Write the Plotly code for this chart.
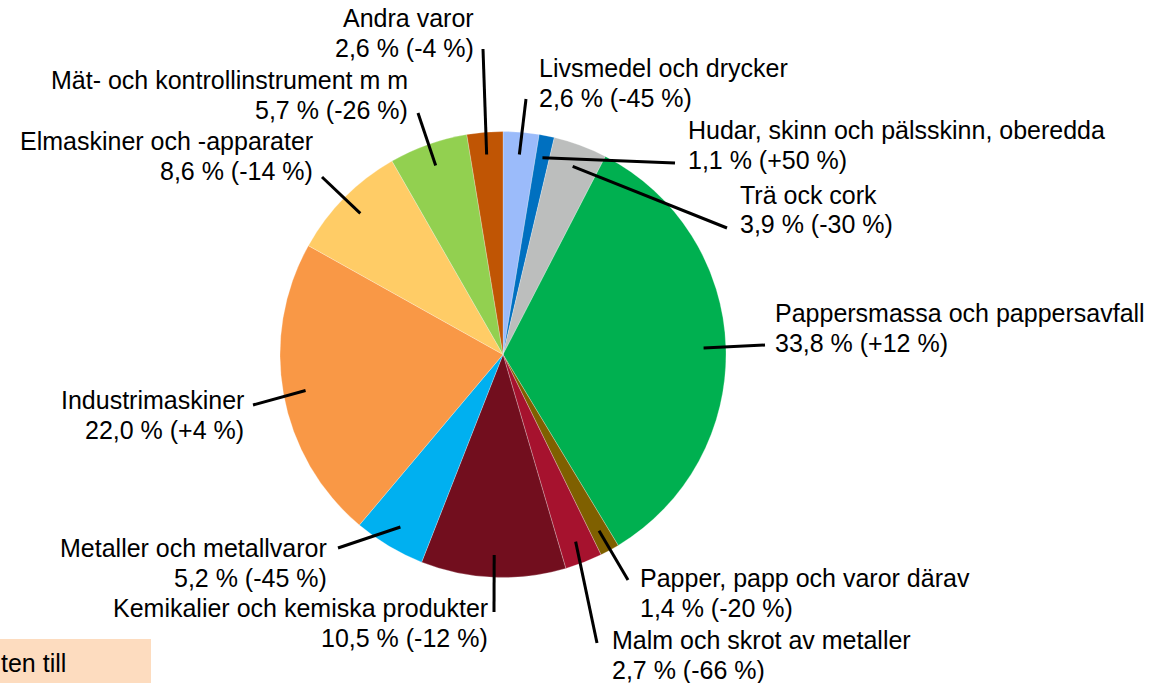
import math
import plotly.graph_objects as go

# ---- data ----
categories = [
    "Livsmedel och drycker",
    "Hudar, skinn och pälsskinn, oberedda",
    "Trä ock cork",
    "Pappersmassa och pappersavfall",
    "Papper, papp och varor därav",
    "Malm och skrot av metaller",
    "Kemikalier och kemiska produkter",
    "Metaller och metallvaror",
    "Industrimaskiner",
    "Elmaskiner och -apparater",
    "Mät- och kontrollinstrument m m",
    "Andra varor",
]
shares = [2.6, 1.1, 3.9, 33.8, 1.4, 2.7, 10.5, 5.2, 22.0, 8.6, 5.7, 2.6]
changes = ["-45", "+50", "-30", "+12", "-20", "-66", "-12", "-45", "+4", "-14", "-26", "-4"]
colors = ["#9BBBFA", "#0070C0", "#BCBEBD", "#00B050", "#7F6000", "#A6122E",
          "#720E1E", "#00B0F0", "#F99846", "#FFCC66", "#92D050", "#C05504"]

# ---- layout (pixels) ----
W, H = 1157, 683
CX, CY, R = 503, 354.5, 223
FONT = dict(family="Liberation Sans, Arial", size=25, color="black")
# label anchor: (x, y of first line center, xanchor), leader-line outer end
label_pos = [
    (537, 68, "left", (526, 99)),
    (686, 130, "left", (675, 163)),
    (738, 195, "left", (727, 228)),
    (773, 313, "left", (765, 345)),
    (638, 578, "left", (628, 580)),
    (610, 640, "left", (597, 643)),
    (490, 608, "right", (494, 612)),
    (329, 548, "right", (338, 548)),
    (246, 400, "right", (253, 405)),
    (315, 141, "right", (322, 177)),
    (410, 80, "right", (418, 113)),
    (476, 18, "right", (483, 49)),
]

def px(x):
    return x / W

def py(y):
    return 1 - y / H

fig = go.Figure(go.Pie(
    labels=categories,
    values=shares,
    sort=False,
    direction="clockwise",
    rotation=0,
    marker=dict(colors=colors, line=dict(color="rgba(255,255,255,0.5)", width=0.5)),
    textinfo="none",
    hoverinfo="label+value",
    showlegend=False,
    domain=dict(x=[px(CX - R), px(CX + R)], y=[py(CY + R), py(CY - R)]),
))

fmt = lambda v: f"{v:.1f}".replace(".", ",")
total = sum(shares)
cum = 0.0
annotations = []
shapes = []
for cat, v, ch, (lx, ly, anchor, (ex, ey)) in zip(categories, shares, changes, label_pos):
    mid = (cum + v / 2) / total * 2 * math.pi
    cum += v
    ix = CX + 0.9 * R * math.sin(mid)
    iy = CY - 0.9 * R * math.cos(mid)
    shapes.append(dict(type="line", xref="paper", yref="paper",
                       x0=px(ix), y0=py(iy), x1=px(ex), y1=py(ey),
                       line=dict(color="black", width=3)))
    for i, line in enumerate([cat, f"{fmt(v)} % ({ch} %)"]):
        annotations.append(dict(
            x=px(lx), y=py(ly + i * 29.5), xref="paper", yref="paper",
            text=line, showarrow=False, xanchor=anchor, yanchor="middle",
            font=FONT,
        ))

# clipped note box at bottom-left
shapes.append(dict(type="rect", xref="paper", yref="paper", layer="below",
                   x0=px(0), x1=px(151), y0=py(700), y1=py(639),
                   fillcolor="#FDDCBF", line=dict(width=0)))
annotations.append(dict(x=px(68), y=py(663), xref="paper", yref="paper",
                        text="ten till", showarrow=False, xanchor="right", yanchor="middle",
                        font=FONT))

fig.update_layout(
    width=W, height=H,
    margin=dict(l=0, r=0, t=0, b=0),
    paper_bgcolor="white", plot_bgcolor="white",
    shapes=shapes, annotations=annotations,
)
fig.write_html(
    "out.html",
    config={"displayModeBar": False},
    post_script="document.body.style.margin='0';document.body.style.overflow='hidden';",
)
